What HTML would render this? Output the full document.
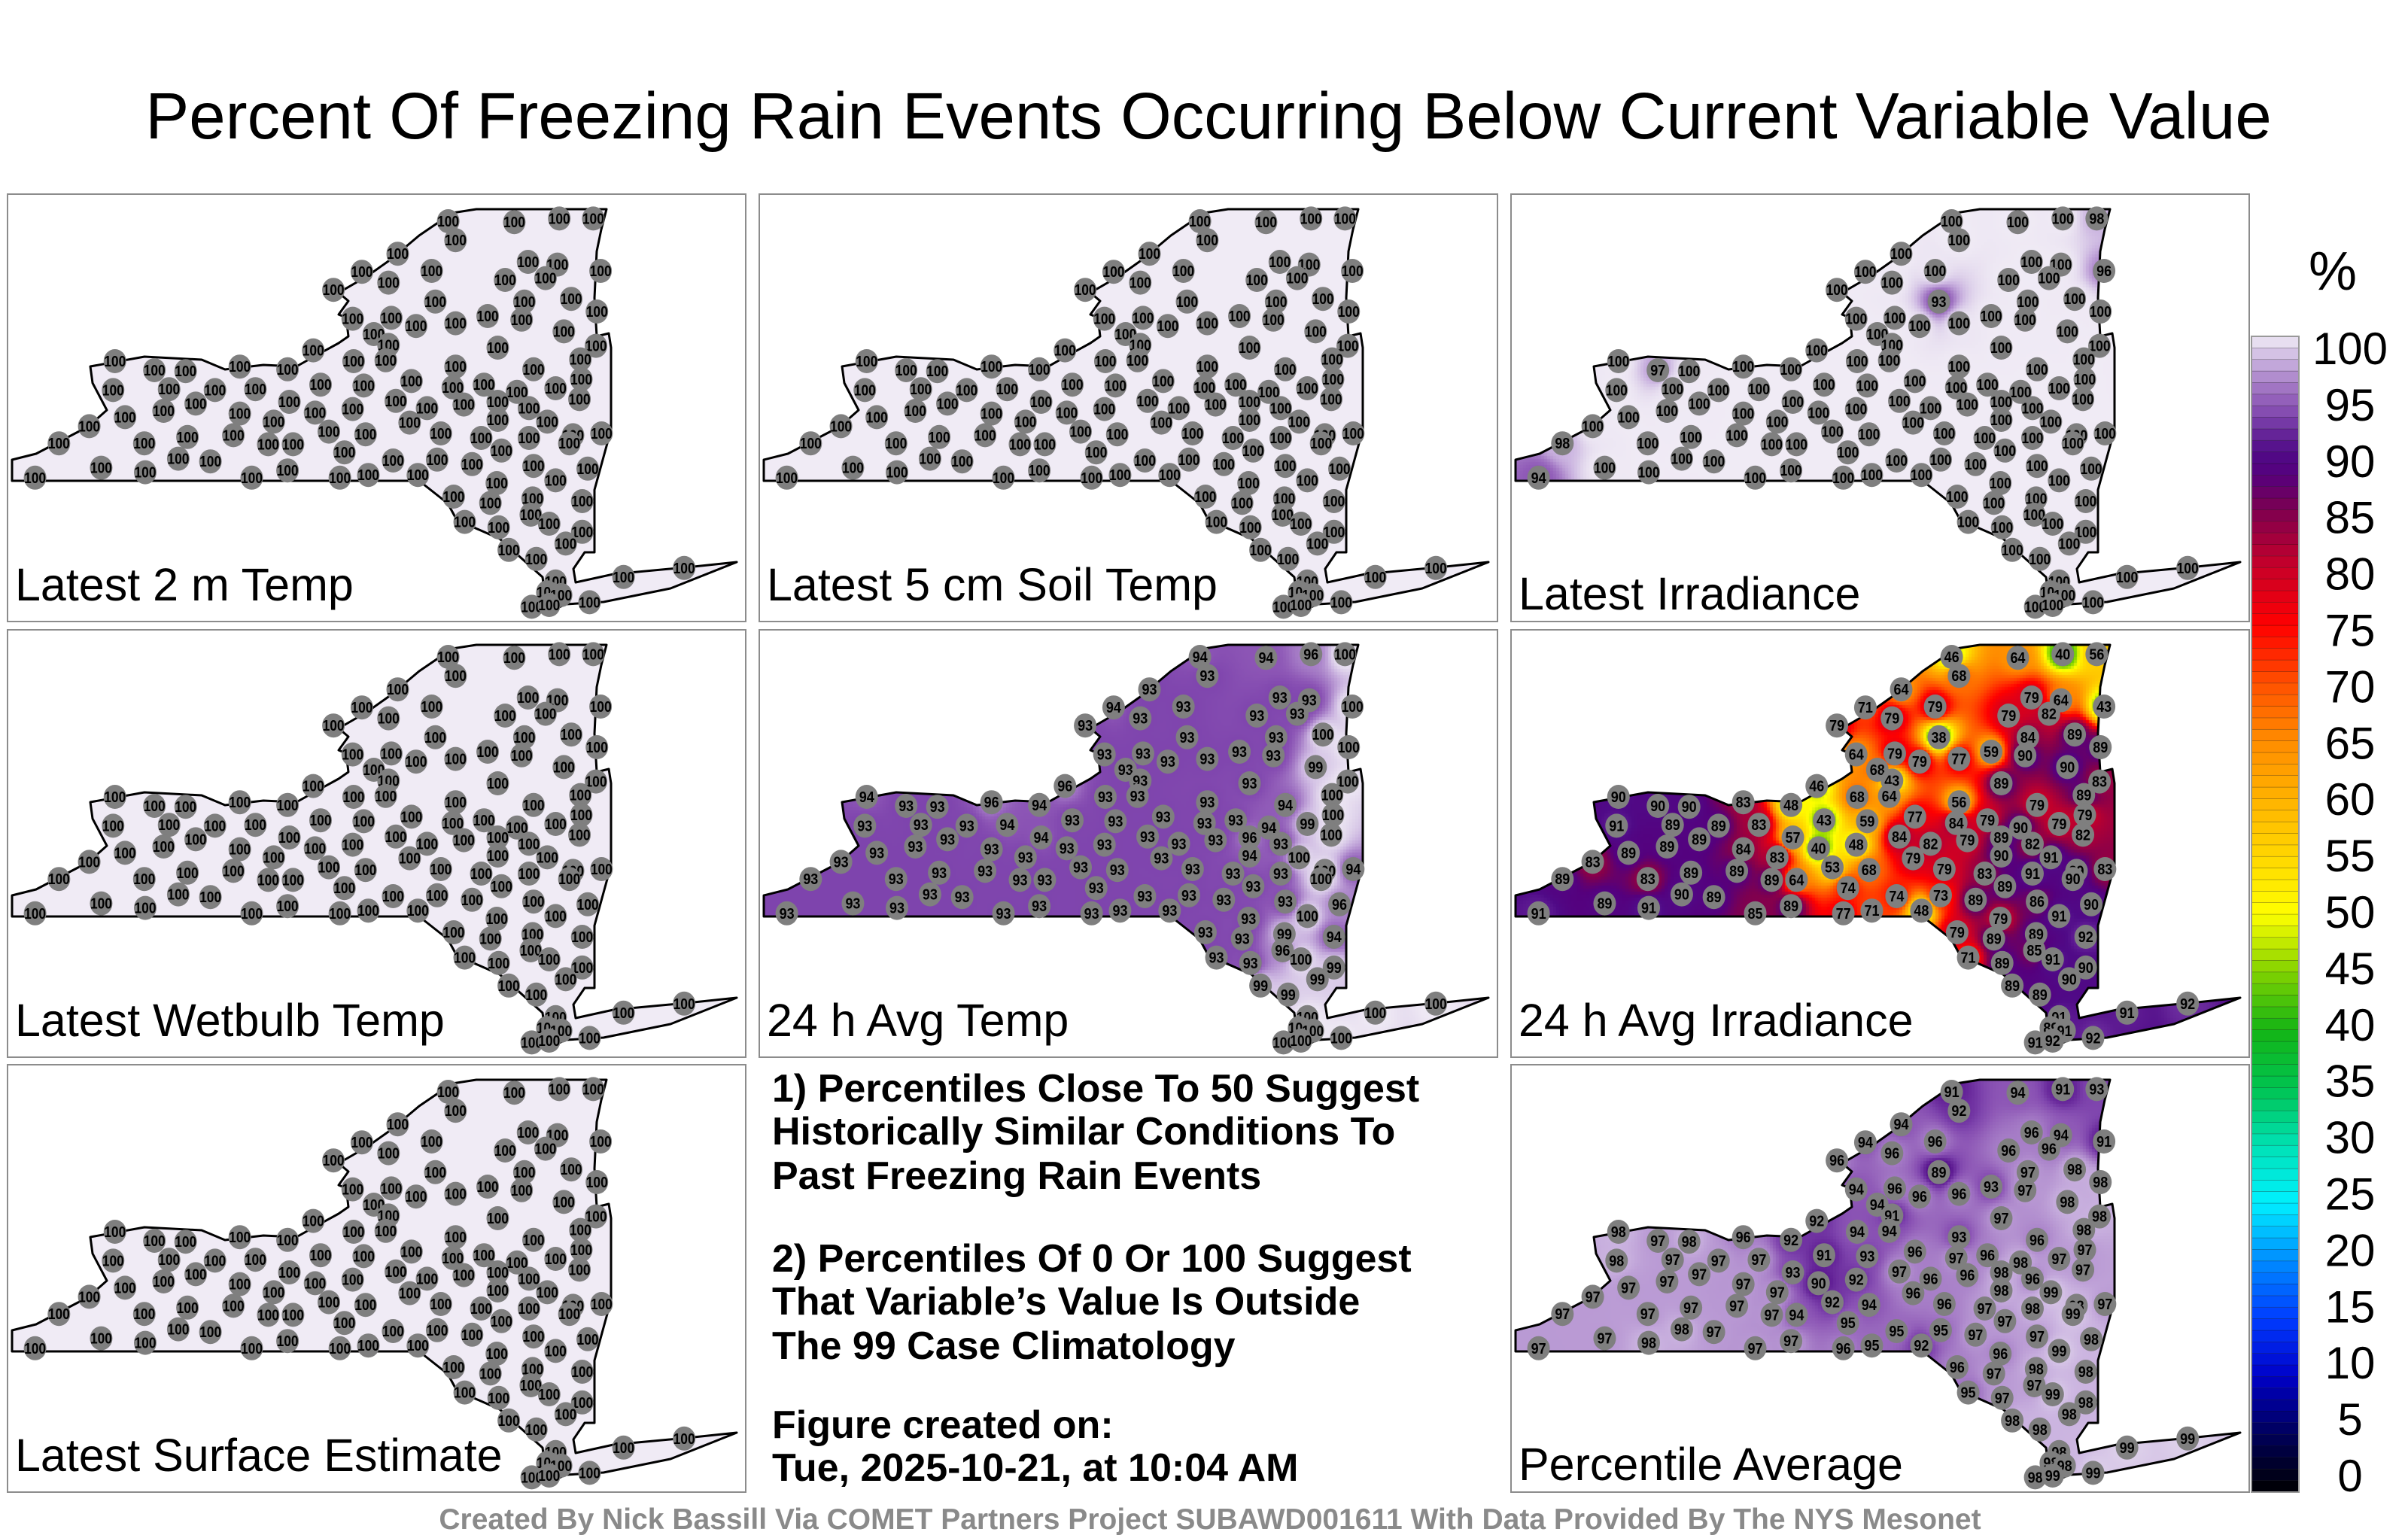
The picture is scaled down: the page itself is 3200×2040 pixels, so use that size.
<!DOCTYPE html>
<html><head><meta charset="utf-8">
<style>
html,body{margin:0;padding:0;background:#fff;}
#wrap{position:relative;width:3200px;height:2040px;}
canvas{position:absolute;}
svg{display:block;position:absolute;left:0;top:0;}
text{font-family:"Liberation Sans",sans-serif;}
</style></head>
<body>
<div id="wrap">
<svg id="fig" width="3200" height="2040" viewBox="0 0 3200 2040" xmlns="http://www.w3.org/2000/svg">
<defs></defs>
<text x="1606" y="184" font-size="87" text-anchor="middle" fill="#000">Percent Of Freezing Rain Events Occurring Below Current Variable Value</text>
<g id="panels"></g>
<g font-weight="bold" font-size="52" fill="#000">
<text x="1026" y="1464">1) Percentiles Close To 50 Suggest</text>
<text x="1026" y="1521">Historically Similar Conditions To</text>
<text x="1026" y="1580">Past Freezing Rain Events</text>
<text x="1026" y="1690">2) Percentiles Of 0 Or 100 Suggest</text>
<text x="1026" y="1747">That Variable’s Value Is Outside</text>
<text x="1026" y="1806">The 99 Case Climatology</text>
<text x="1026" y="1911">Figure created on:</text>
<text x="1026" y="1968">Tue, 2025-10-21, at 10:04 AM</text>
</g>
<g id="cbar"></g>
<text x="3100" y="385" font-size="72" text-anchor="middle">%</text>
<text x="1608" y="2032" font-size="39" font-weight="bold" fill="#8a8a8a" text-anchor="middle">Created By Nick Bassill Via COMET Partners Project SUBAWD001611 With Data Provided By The NYS Mesonet</text>
</svg>
</div>
<script>
// ---- station data ----
const stationLon = [-75.01,-74.29,-73.80,-73.43,-74.93,-75.56,-74.14,-73.82,-73.35,-75.95,-75.19,-74.39,-73.95,-75.66,-76.26,-75.15,-74.18,-73.67,-73.39,-76.05,-75.63,-75.36,-74.93,-74.58,-74.21,-73.75,-75.82,-75.66,-73.40,-76.48,-74.47,-76.04,-75.69,-73.57,-78.64,-78.21,-77.87,-77.28,-76.76,-74.93,-74.08,-73.56,-76.40,-75.93,-75.41,-78.66,-78.05,-77.55,-77.11,-74.96,-74.62,-74.26,-73.84,-73.58,-76.74,-77.76,-75.58,-76.05,-75.24,-74.84,-74.47,-74.13,-76.46,-78.53,-78.11,-77.28,-74.47,-73.93,-78.92,-76.91,-75.43,-76.31,-75.91,-75.09,-73.34,-73.65,-73.69,-74.65,-74.13,-79.25,-78.32,-77.85,-77.35,-76.97,-76.70,-74.43,-76.14,-77.95,-77.60,-75.61,-75.13,-74.75,-74.08,-73.49,-78.79,-78.31,-79.51,-77.15,-76.76,-76.19,-75.88,-75.34,-73.84,-74.48,-74.95,-74.55,-74.09,-73.55,-74.11,-73.91,-74.83,-74.46,-73.55,-73.73,-74.35,-74.05,-72.44,-73.10,-73.84,-73.93,-73.78,-73.47,-74.10,-73.91];
const stationLat = [44.87,44.86,44.90,44.90,44.66,44.51,44.42,44.39,44.32,44.31,44.32,44.22,44.24,44.19,44.11,43.98,43.98,44.01,43.87,43.79,43.80,43.71,43.74,43.82,43.78,43.65,43.62,43.50,43.49,43.44,43.47,43.32,43.33,43.34,43.32,43.22,43.21,43.26,43.23,43.26,43.23,43.12,43.06,43.05,43.10,43.00,43.01,43.00,43.01,43.03,43.06,42.98,43.02,42.90,42.87,42.85,42.88,42.79,42.80,42.84,42.87,42.80,42.75,42.70,42.77,42.74,42.67,42.65,42.60,42.65,42.64,42.54,42.51,42.52,42.52,42.50,42.41,42.47,42.47,42.41,42.41,42.48,42.50,42.40,42.40,42.33,42.31,42.24,42.21,42.22,42.23,42.18,42.16,42.13,42.14,42.09,42.03,42.03,42.11,42.03,42.06,42.06,42.00,41.97,41.82,41.75,41.80,41.77,41.62,41.52,41.54,41.48,41.43,41.30,41.23,41.13,41.03,40.93,40.88,40.76,40.73,40.65,40.60,40.62];

const latest2mTemp = [100,100,100,100,100,100,100,100,100,100,100,100,100,100,100,100,100,100,100,100,100,100,100,100,100,100,100,100,100,100,100,100,100,100,100,100,100,100,100,100,100,100,100,100,100,100,100,100,100,100,100,100,100,100,100,100,100,100,100,100,100,100,100,100,100,100,100,100,100,100,100,100,100,100,100,100,100,100,100,100,100,100,100,100,100,100,100,100,100,100,100,100,100,100,100,100,100,100,100,100,100,100,100,100,100,100,100,100,100,100,100,100,100,100,100,100,100,100,100,100,100,100,100,100];
const latestSoilTemp = latest2mTemp.slice();
const latestWetbulb = latest2mTemp.slice();
const latestSurface = latest2mTemp.slice();
const latestIrradiance = [100,100,100,98,100,100,100,100,96,100,100,100,100,100,100,93,100,100,100,100,100,100,100,100,100,100,100,100,100,100,100,100,100,100,100,97,100,100,100,100,100,100,100,100,100,100,100,100,100,100,100,100,100,100,100,100,100,100,100,100,100,100,100,100,100,100,100,100,100,100,100,100,100,100,100,100,100,100,100,98,100,100,100,100,100,100,100,100,100,100,100,100,100,100,100,100,94,100,100,100,100,100,100,100,100,100,100,100,100,100,100,100,100,100,100,100,100,100,100,100,100,100,100,100];
const avgTemp24h = [94,94,96,100,93,93,93,93,100,94,93,93,93,93,93,93,93,100,100,93,93,93,93,93,93,99,93,93,100,96,93,93,93,100,94,93,93,96,94,93,94,100,93,93,93,93,93,93,94,93,93,94,99,100,94,93,93,93,93,93,96,93,93,93,93,93,94,100,93,93,93,93,93,93,94,100,100,93,93,93,93,93,93,93,93,93,93,93,93,93,93,93,93,96,93,93,93,93,93,93,93,93,100,93,93,93,99,94,96,100,93,93,99,99,99,99,100,100,100,100,100,100,100,100];
const avgIrradiance24h = [46,64,40,56,68,64,79,64,43,71,79,79,82,79,79,38,84,89,89,64,79,79,77,59,90,90,68,43,83,46,89,68,64,89,90,90,90,83,48,56,79,79,43,59,77,91,89,89,83,84,79,90,79,82,57,89,84,48,82,79,89,82,40,89,89,84,90,91,83,83,79,53,68,79,83,89,90,83,91,89,83,89,89,89,64,89,74,90,89,74,73,89,86,90,89,91,91,85,89,77,71,48,91,79,79,89,89,92,85,91,71,89,90,90,89,89,92,91,91,89,91,92,91,92];
const percentileAvg = [91,94,91,93,92,94,96,94,91,94,96,96,96,96,96,89,97,98,98,94,96,96,96,93,97,98,94,91,98,92,97,94,94,98,98,97,98,96,92,93,96,97,91,93,96,98,97,97,97,97,96,98,97,97,93,97,97,92,96,96,98,96,90,97,97,97,98,99,97,97,96,92,94,96,97,98,99,97,98,97,97,97,97,97,94,97,95,98,97,95,95,97,97,98,97,98,97,97,97,96,95,92,99,96,96,97,98,98,97,99,95,97,98,98,98,98,99,99,98,98,98,99,98,99];

const panelTitles = ["Latest 2 m Temp","Latest 5 cm Soil Temp","Latest Irradiance","Latest Wetbulb Temp","24 h Avg Temp","24 h Avg Irradiance","Latest Surface Estimate","","Percentile Average"];
const panelSeries = [latest2mTemp,latestSoilTemp,latestIrradiance,latestWetbulb,avgTemp24h,avgIrradiance24h,latestSurface,null,percentileAvg];
const cbarTicks = [0,5,10,15,20,25,30,35,40,45,50,55,60,65,70,75,80,85,90,95,100];

// ---- colormap ----
const stops=[[0,[0,0,0]],[5,[0,0,90]],[10,[0,0,200]],[15,[0,60,255]],[20,[0,140,255]],[25,[0,240,255]],[30,[0,225,180]],[35,[0,195,80]],[40,[20,180,20]],[45,[130,210,0]],[50,[255,255,0]],[55,[255,215,0]],[60,[255,178,0]],[65,[255,140,0]],[70,[255,80,0]],[75,[255,0,0]],[80,[200,0,40]],[85,[125,0,80]],[88,[85,0,125]],[90,[80,10,135]],[92,[108,45,158]],[93,[126,68,173]],[94,[140,85,181]],[96,[168,128,200]],[98,[203,180,224]],[99,[221,208,234]],[100,[240,235,245]]];
function cmapRGB(v){
  for(let i=1;i<stops.length;i++){
    if(v<=stops[i][0]){const a=stops[i-1],b=stops[i];const t=(v-a[0])/(b[0]-a[0]);
      return a[1].map((x,k)=>Math.round(x+(b[1][k]-x)*t));}
  }
  return [240,235,245];
}
function cmap(v){const c=cmapRGB(v);return `rgb(${c[0]},${c[1]},${c[2]})`;}
const xProj=lon=>(lon+79.81)*122;
const yProj=lat=>(45.17-lat)*120;

const NS="http://www.w3.org/2000/svg";
function mk(tag,attrs,parent){const e=document.createElementNS(NS,tag);for(const k in attrs)e.setAttribute(k,attrs[k]);if(parent)parent.appendChild(e);return e;}

const statePath="M6,381 L6,353 L38,345 L107,309 L132,287 L113,251 L110,229 L182,216 L258,220 L289,233 L340,227 L384,229 L409,215 L440,198 L453,189 L450,164 L440,160 L453,142 L440,131 L478,109 L509,87 L547,55 L591,25 L623,20 L796,20 L789,47 L783,76 L780,138 L783,189 L799,185 L802,204 L802,313 L780,393 L780,476 L767,476 L752,498 L755,516 L805,505 L912,495 L969,489 L881,524 L792,542 L742,545 L717,556 L711,509 L654,458 L597,433 L585,411 L566,396 L547,381 Z";
const panelX=[10,1009,2008], panelY=[258,837,1415];
const panelsG=document.getElementById('panels');
const wrap=document.getElementById('wrap');
const svgEl=document.getElementById('fig');

function drawField(canvas,vals){
  const W=981,H=568,cell=4;
  const ctx=canvas.getContext('2d');
  ctx.save();
  ctx.clip(new Path2D(statePath));
  const xs=vals.map((v,i)=>xProj(stationLon[i])), ys=vals.map((v,i)=>yProj(stationLat[i]));
  for(let y=0;y<H;y+=cell){
    for(let x=0;x<W;x+=cell){
      const cx=x+cell/2, cy=y+cell/2;
      let sw=0,sv=0,hit=-1;
      for(let i=0;i<vals.length;i++){
        const dx=cx-xs[i],dy=cy-ys[i];const d2=dx*dx+dy*dy;
        if(d2<1){hit=i;break;}
        const w=1/(d2*Math.sqrt(d2));
        sw+=w;sv+=w*vals[i];
      }
      const v=hit>=0?vals[hit]:sv/sw;
      const c=cmapRGB(v);
      ctx.fillStyle=`rgb(${c[0]},${c[1]},${c[2]})`;
      ctx.fillRect(x,y,cell,cell);
    }
  }
  ctx.restore();
}

panelSeries.forEach((vals,p)=>{
  const col=p%3,row=Math.floor(p/3);
  const g=mk('g',{transform:`translate(${panelX[col]},${panelY[row]})`},panelsG);
  
  
  if(!vals) return;
  const cv=document.createElement('canvas');
  cv.width=981;cv.height=568;
  cv.style.left=panelX[col]+'px';cv.style.top=panelY[row]+'px';
  
  
  wrap.insertBefore(cv,svgEl);
  drawField(cv,vals);
  const border=mk('rect',{x:0,y:0,width:981,height:568,fill:'none',stroke:'#8c8c8c','stroke-width':2},g);
  
  
  const outline=mk('path',{d:statePath,fill:'none',stroke:'#000','stroke-width':3,'stroke-linejoin':'round'},g);
  
  
  vals.forEach((v,i)=>{
    const sg=mk('g',{},g);
    
    
    const x=xProj(stationLon[i]),y=yProj(stationLat[i]);
    mk('ellipse',{cx:x,cy:y,rx:15,ry:16,fill:'#7f7f7f'},sg);
    const t=mk('text',{x:x,y:y+7,'font-size':20,'font-weight':'bold','text-anchor':'middle',fill:'#000'},sg);
    t.setAttribute('textLength',String(v).length>2?29:20);
    t.setAttribute('lengthAdjust','spacingAndGlyphs');
    t.textContent=v;
  });
  const lbl=mk('text',{x:10,y:(p===2||p===8)?552:540,'font-size':61,fill:'#000'},g);
  
  
  lbl.textContent=panelTitles[p];
});

// ---- colorbar ----
const cb=document.getElementById('cbar');
const cbTop=447,cbBot=1983,cbX=2992,cbW=63;
const yC=v=>cbBot-(v/100)*(cbBot-cbTop);
for(let v=0;v<100;v++){
  const r=mk('rect',{x:cbX,y:yC(v+1),width:cbW,height:yC(v)-yC(v+1),fill:cmap(v+0.5),stroke:'rgba(0,0,0,0.35)','stroke-width':0.6},cb);
  
  
}
mk('rect',{x:cbX,y:cbTop,width:cbW,height:cbBot-cbTop,fill:'none',stroke:'#999','stroke-width':2},cb);
cbarTicks.forEach(v=>{
  const t=mk('text',{x:3123,y:463+(100-v)*(1961-463)/100+21,'font-size':60,'text-anchor':'middle',fill:'#000'},cb);
  
  
  t.textContent=v;
});
</script>
</body></html>
